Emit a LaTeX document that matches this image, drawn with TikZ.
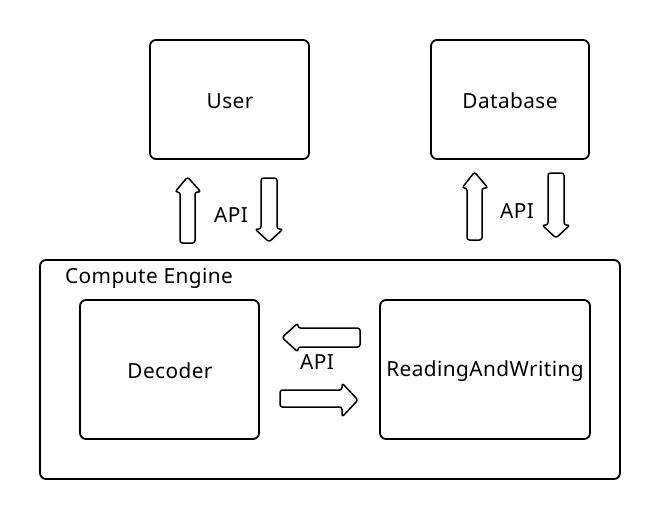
\documentclass[tikz,border=0pt]{standalone}
\usepackage{fontspec}
\setmainfont{Noto Sans}[LetterSpace=2]
\begin{document}
\begin{tikzpicture}[x=1pt,y=-1pt,
  box/.style={draw,line width=1.8pt,rounded corners=6pt},
  barrow/.style={draw,line width=1.5pt,rounded corners=2.5pt,line join=round},
  lbl/.style={font=\fontsize{20.8}{24}\selectfont,inner sep=0pt}]
\useasboundingbox[fill=white] (0,0) rectangle (660,520);
% boxes
\draw[box] (150,40) rectangle (309,159);
\node[lbl] (user) at (230,101) {User};
\draw[box] (431,40) rectangle (589,159);
\node[lbl] (db) at (510,101) {Database};
\draw[box] (40,260) rectangle (620,479);
\node[lbl,anchor=west] (ce) at (65,278) {Compute Engine};
\draw[box] (80,300) rectangle (259,439);
\node[lbl] (dec) at (170,371) {Decoder};
\draw[box] (380,300) rectangle (590,439);
\node[lbl] (rw) at (485,371) {ReadingAndWriting};
% vertical arrows (User)
\draw[barrow] (180,243) -- (180,192) -- (175,192) -- (187.5,177) -- (201,192) -- (195,192) -- (195,243) -- cycle;
\draw[barrow] (261,178) -- (261,229) -- (255,229) -- (269,242) -- (283,229) -- (277,229) -- (277,178) -- cycle;
\node[lbl] (api1) at (231,215) {API};
% vertical arrows (Database)
\draw[barrow] (467,240) -- (467,188) -- (462,188) -- (474.5,172) -- (488,188) -- (482,188) -- (482,240) -- cycle;
\draw[barrow] (548,173) -- (548,225) -- (542,225) -- (556,238) -- (570,225) -- (564,225) -- (564,173) -- cycle;
\node[lbl] (api2) at (517,211) {API};
% horizontal arrows
\draw[barrow] (360,328) -- (298,328) -- (298,323) -- (282,337.5) -- (298,352) -- (298,347) -- (360,347) -- cycle;
\node[lbl] (api3) at (317,362) {API};
\draw[barrow] (280,390) -- (342,390) -- (342,383) -- (358,400) -- (342,417) -- (342,407) -- (280,407) -- cycle;
\end{tikzpicture}
\end{document}
